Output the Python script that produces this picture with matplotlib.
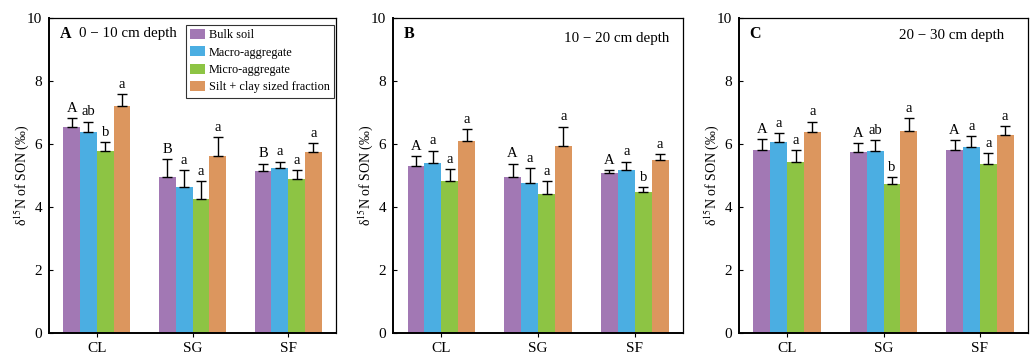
import numpy as np
import matplotlib
matplotlib.use('Agg')
import matplotlib.pyplot as plt

plt.rcParams['font.family'] = ['Liberation Serif', 'DejaVu Serif']
plt.rcParams['mathtext.fontset'] = 'stix'

sites = ['CL', 'SG', 'SF']
fractions = ['Bulk soil', 'Macro-aggregate', 'Micro-aggregate', 'Silt + clay sized fraction']
colors = ['#A278B4', '#4BAEE2', '#8DC444', '#DC965E']

# mean values, rows = fraction, cols = site
mean_a = [[6.54, 4.96, 5.15],
          [6.38, 4.64, 5.24],
          [5.78, 4.26, 4.89],
          [7.21, 5.62, 5.75]]
err_a = [[0.28, 0.56, 0.23],
         [0.33, 0.53, 0.20],
         [0.29, 0.55, 0.28],
         [0.38, 0.60, 0.28]]
lab_a = [['A', 'B', 'B'],
         ['ab', 'a', 'a'],
         ['b', 'a', 'a'],
         ['a', 'a', 'a']]

mean_b = [[5.30, 4.95, 5.07],
          [5.39, 4.76, 5.17],
          [4.82, 4.41, 4.47],
          [6.09, 5.93, 5.49]]
err_b = [[0.32, 0.43, 0.11],
         [0.40, 0.48, 0.27],
         [0.39, 0.41, 0.16],
         [0.37, 0.62, 0.18]]
lab_b = [['A', 'A', 'A'],
         ['a', 'a', 'a'],
         ['a', 'a', 'b'],
         ['a', 'a', 'a']]

mean_c = [[5.81, 5.75, 5.81],
          [6.05, 5.78, 5.89],
          [5.44, 4.74, 5.38],
          [6.37, 6.40, 6.27]]
err_c = [[0.35, 0.28, 0.31],
         [0.30, 0.35, 0.36],
         [0.36, 0.21, 0.34],
         [0.34, 0.41, 0.30]]
lab_c = [['A', 'A', 'A'],
         ['a', 'ab', 'a'],
         ['a', 'b', 'a'],
         ['a', 'a', 'a']]

tags = ['A', 'B', 'C']
depths = ['0 \u2212 10 cm depth', '10 \u2212 20 cm depth', '20 \u2212 30 cm depth']
all_mean = [mean_a, mean_b, mean_c]
all_err = [err_a, err_b, err_c]
all_lab = [lab_a, lab_b, lab_c]

fig = plt.figure(figsize=(10.34, 3.56), dpi=100)
rects = [[0.0474, 0.0646, 0.2776, 0.885],
         [0.3801, 0.0646, 0.2805, 0.885],
         [0.7147, 0.0646, 0.2795, 0.885]]
# where the depth text goes (x, y, ha) in axes fraction
depth_pos = [(0.105, 0.95, 'left'), (0.952, 0.934, 'right'), (0.917, 0.945, 'right')]

w = 0.175
x = np.arange(len(sites))

for k in range(3):
    mean, err, lab = all_mean[k], all_err[k], all_lab[k]
    ax = fig.add_axes(rects[k])
    for i in range(4):
        xpos = x + (i - 1.5) * w
        ax.bar(xpos, mean[i], width=w, color=colors[i], label=fractions[i], zorder=2)
        ax.errorbar(xpos, mean[i], yerr=[np.zeros(3), err[i]], fmt='none',
                    ecolor='black', elinewidth=1.0, capsize=3.5, capthick=1.0, zorder=3)
        for j in range(3):
            ax.text(xpos[j], mean[i][j] + err[i][j] + 0.1, lab[i][j],
                    ha='center', va='bottom', fontsize=10.5)
    ax.set_xlim(-0.5, 2.5)
    ax.set_ylim(0, 10)
    ax.set_yticks([0, 2, 4, 6, 8, 10])
    ax.set_xticks(x)
    ax.set_xticklabels(sites)
    ax.tick_params(axis='y', direction='in', length=3, labelsize=11, pad=5)
    ax.tick_params(axis='x', direction='out', length=3, labelsize=11)
    for s in ['left', 'bottom']:
        ax.spines[s].set_linewidth(1.4)
    for s in ['top', 'right']:
        ax.spines[s].set_linewidth(0.9)
    ax.set_ylabel('\u03b4$^{15}$N of SON (\u2030)', fontsize=10, labelpad=-3)

    ax.text(0.037, 0.95, tags[k], transform=ax.transAxes, fontsize=11.5,
            fontweight='bold', va='center', ha='left')
    dx, dy, dha = depth_pos[k]
    ax.text(dx, dy, depths[k], transform=ax.transAxes, fontsize=10.8,
            va='center', ha=dha)
    if k == 0:
        leg = ax.legend(loc='upper right', bbox_to_anchor=(0.997, 0.983), fontsize=8.8,
                        frameon=True, fancybox=False, handlelength=1.2,
                        handleheight=0.9, handletextpad=0.3, borderpad=0.35,
                        labelspacing=0.42, borderaxespad=0.1)
        frame = leg.get_frame()
        frame.set_edgecolor('black')
        frame.set_linewidth(0.8)

fig.savefig('out.png', dpi=100)
plt.close('all')
